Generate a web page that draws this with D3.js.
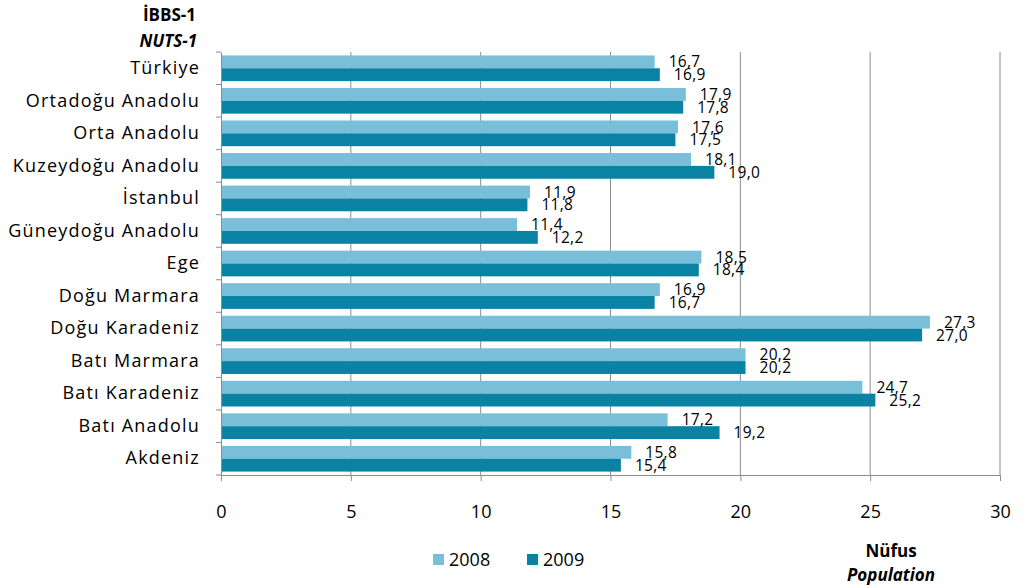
<!DOCTYPE html>
<html>
<head>
<meta charset="utf-8">
<script src="https://cdn.jsdelivr.net/npm/d3@7"></script>
<style>
  body { margin: 0; background: #fff; }
  text { font-family: "Open Sans", sans-serif; fill: #000; }
</style>
</head>
<body>
<div id="viz"></div>
<script>
const regions = [
  'Türkiye', 'Ortadoğu Anadolu', 'Orta Anadolu', 'Kuzeydoğu Anadolu', 'İstanbul',
  'Güneydoğu Anadolu', 'Ege', 'Doğu Marmara', 'Doğu Karadeniz', 'Batı Marmara',
  'Batı Karadeniz', 'Batı Anadolu', 'Akdeniz'
];
const values2008 = [16.7, 17.9, 17.6, 18.1, 11.9, 11.4, 18.5, 16.9, 27.3, 20.2, 24.7, 17.2, 15.8];
const values2009 = [16.9, 17.8, 17.5, 19.0, 11.8, 12.2, 18.4, 16.7, 27.0, 20.2, 25.2, 19.2, 15.4];
const years = ['2008', '2009'];
const xTicks = [0, 5, 10, 15, 20, 25, 30];

const WIDTH = 1024;
const HEIGHT = 588;
const MARGIN = { top: 52, right: 24, bottom: 113, left: 221 };
const COLORS = { '2008': '#79bfd9', '2009': '#0a82a3' };

const svg = d3.select('#viz').append('svg')
  .attr('width', WIDTH)
  .attr('height', HEIGHT);

const innerH = HEIGHT - MARGIN.top - MARGIN.bottom;

const x = d3.scaleLinear().domain([0, 30]).range([0, 779]);
const y = d3.scaleBand().domain(regions).range([0, innerH]).paddingInner(0.21).paddingOuter(0.105);
const ySub = d3.scaleBand().domain(years).range([0, y.bandwidth()]);

const g = svg.append('g')
  .attr('transform', `translate(${MARGIN.left}, ${MARGIN.top})`);

// vertical gridlines
g.append('g').selectAll('line')
  .data(xTicks.slice(1))
  .join('line')
  .attr('x1', d => x(d)).attr('x2', d => x(d))
  .attr('y1', 0).attr('y2', innerH)
  .attr('stroke', '#8c8c8c')
  .attr('stroke-width', 1);

// bars
const rows = regions.map((r, i) => ({ region: r, '2008': values2008[i], '2009': values2009[i] }));
const groups = g.append('g').selectAll('g')
  .data(rows)
  .join('g')
  .attr('transform', d => `translate(0, ${y(d.region)})`);

groups.selectAll('rect')
  .data(d => years.map(k => ({ key: k, value: d[k] })))
  .join('rect')
  .attr('x', 0)
  .attr('y', d => ySub(d.key))
  .attr('width', d => x(d.value))
  .attr('height', ySub.bandwidth())
  .attr('fill', d => COLORS[d.key]);

const fmt = v => d3.format('.1f')(v).replace('.', ',');
groups.selectAll('text.val')
  .data(d => years.map(k => ({ key: k, value: d[k] })))
  .join('text')
  .attr('class', 'val')
  .attr('x', d => x(d.value) + 14)
  .attr('y', d => ySub(d.key) + ySub.bandwidth() / 2)
  .attr('dy', '0.36em')
  .attr('font-size', 15.5)
  .attr('letter-spacing', 0.3)
  .text(d => fmt(d.value));

// x axis
const xAxis = g.append('g')
  .attr('transform', `translate(0, ${innerH})`)
  .call(d3.axisBottom(x).tickValues(xTicks).tickSize(6).tickSizeOuter(0).tickPadding(24));
xAxis.select('.domain').attr('stroke', '#8c8c8c');
xAxis.selectAll('.tick line').attr('stroke', '#8c8c8c');
xAxis.selectAll('.tick text').attr('font-size', 18).attr('font-family', '"Open Sans", sans-serif');

// y axis
const yAxis = g.append('g')
  .call(d3.axisLeft(y).tickSize(0).tickPadding(21));
yAxis.select('.domain').attr('stroke', '#8c8c8c');
yAxis.selectAll('.tick text')
  .attr('font-size', 18)
  .attr('letter-spacing', 1.2)
  .attr('font-family', '"Open Sans", sans-serif');
// category boundary ticks
const step = y.step();
g.append('g').selectAll('line')
  .data(d3.range(regions.length + 1))
  .join('line')
  .attr('x1', -5).attr('x2', 0)
  .attr('y1', i => i * step).attr('y2', i => i * step)
  .attr('stroke', '#8c8c8c');

// header
svg.append('text')
  .attr('x', 196).attr('y', 21)
  .attr('text-anchor', 'end')
  .attr('font-size', 17).attr('font-weight', 'bold')
  .text('İBBS-1');
svg.append('text')
  .attr('x', 197).attr('y', 47)
  .attr('text-anchor', 'end')
  .attr('font-size', 17).attr('font-weight', 'bold').attr('font-style', 'italic')
  .text('NUTS-1');

// legend
const legend = svg.append('g').attr('transform', 'translate(433, 554)');
years.forEach((k, i) => {
  const lg = legend.append('g').attr('transform', `translate(${i * 94}, 0)`);
  lg.append('rect').attr('width', 11).attr('height', 11).attr('fill', COLORS[k]);
  lg.append('text').attr('x', 16).attr('y', 6).attr('dy', '0.36em')
    .attr('font-size', 18).text(k);
});

// unit label
svg.append('text')
  .attr('x', 891).attr('y', 557)
  .attr('text-anchor', 'middle')
  .attr('font-size', 17).attr('font-weight', 'bold')
  .text('Nüfus');
svg.append('text')
  .attr('x', 891).attr('y', 581)
  .attr('text-anchor', 'middle')
  .attr('font-size', 17).attr('font-weight', 'bold').attr('font-style', 'italic')
  .text('Population');
</script>
</body>
</html>
